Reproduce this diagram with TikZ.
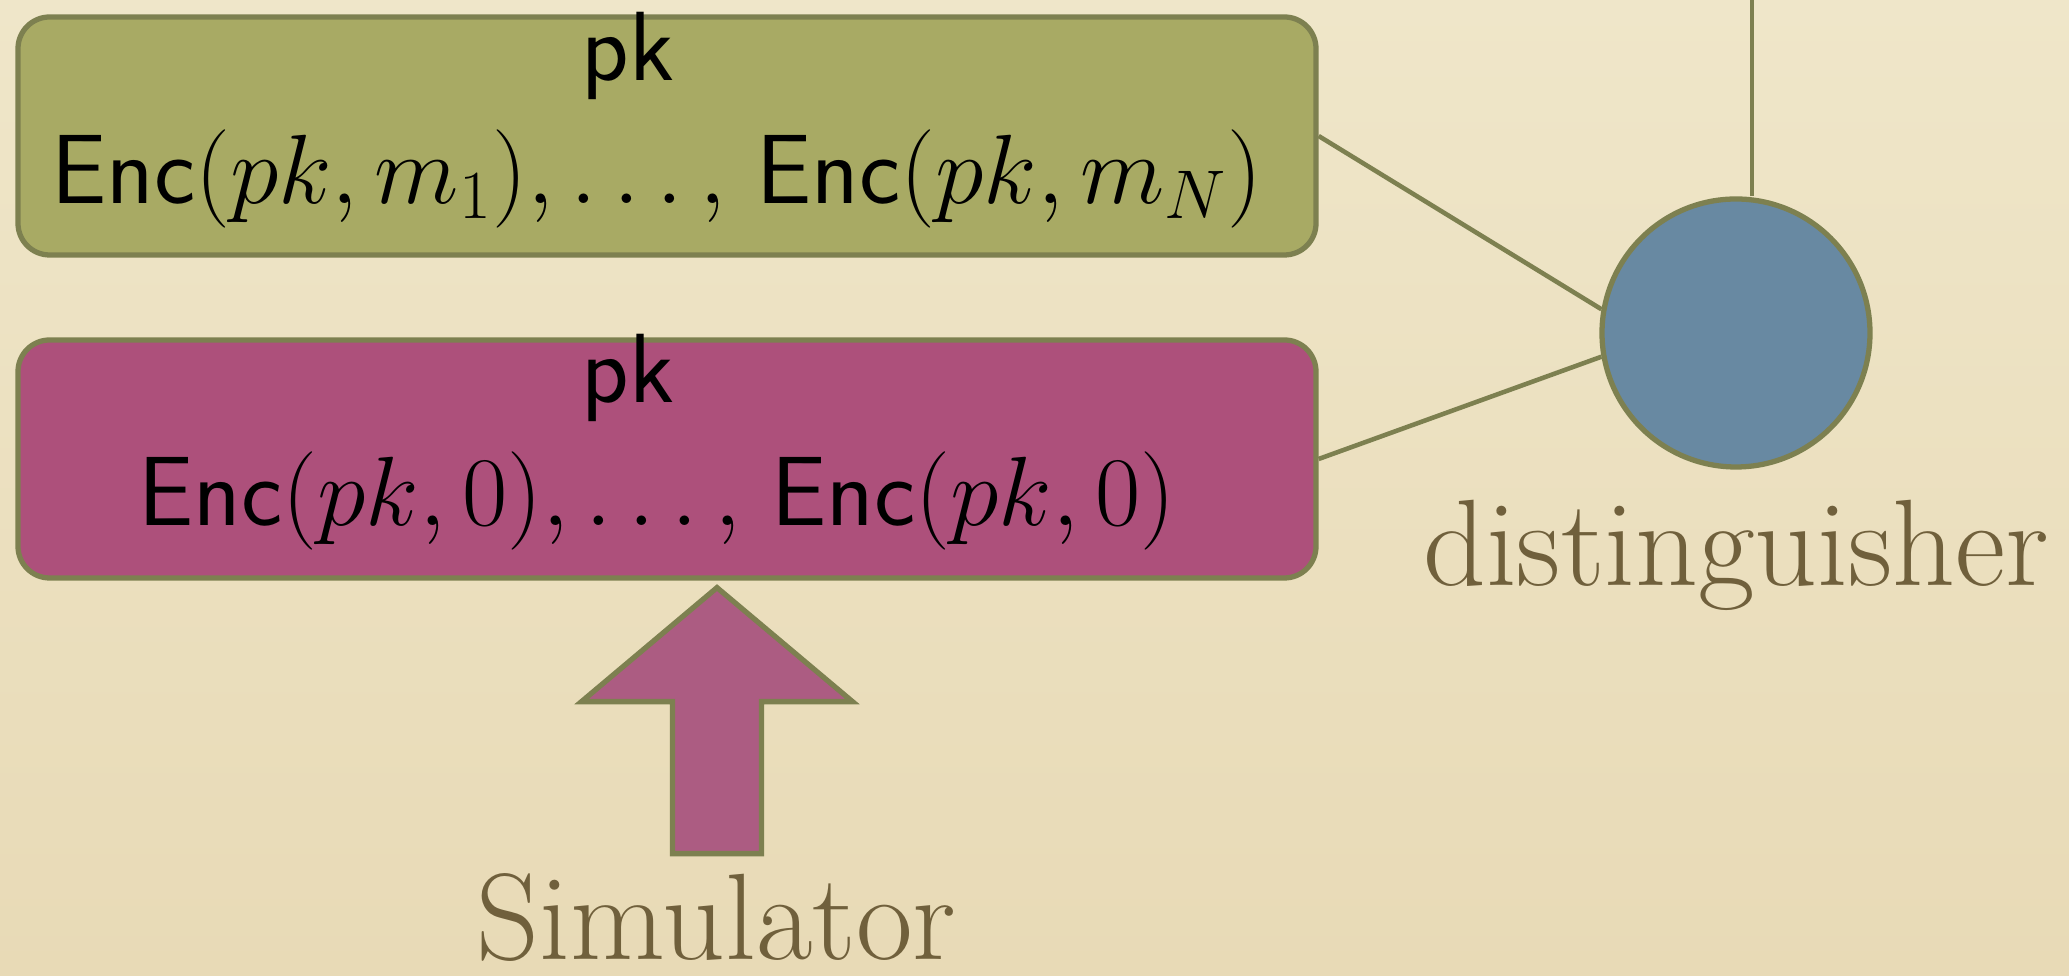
\RequirePackage{fix-cm}
\documentclass[tikz,border=0pt]{standalone}
\usepackage{xcolor}
\usepackage{tikz}
\usetikzlibrary{positioning, calc}
\definecolor{paper}{RGB}{239,230,201}
\definecolor{paperdk}{RGB}{232,218,182}
\definecolor{myolive}{RGB}{125,128,80}
\definecolor{hdrolive}{RGB}{168,170,100}
\definecolor{hdrplum}{RGB}{173,80,123}
\definecolor{arrplum}{RGB}{172,92,130}
\definecolor{hdrblue}{RGB}{104,137,162}
\definecolor{mybrown}{RGB}{112,96,60}
\tikzset{
  encbox/.style={rectangle, draw=myolive, line width=1.5pt,
    minimum width=12.98cm, minimum height=2.38cm, rounded corners=9pt},
  boxtext/.style={align=center, inner sep=0pt,
    font=\fontsize{28}{35}\selectfont},
  distnode/.style={circle, draw=myolive, fill=hdrblue,
    minimum size=2.68cm, line width=1.5pt},
  wire/.style={myolive, line width=1.3pt},
  bigarrow/.style={draw=myolive, fill=arrplum, line width=1.5pt, line join=miter},
  lbl/.style={text=mybrown, inner sep=0pt, anchor=base,
    font=\fontsize{35}{42}\selectfont}
}

\begin{document}
\begin{tikzpicture}
  % paper background
  \shade[top color=paper, bottom color=paperdk] (0,0) rectangle (20.69,9.76);
  \useasboundingbox (0,0) rectangle (20.69,9.76);

  % Real and simulated ciphertext boxes
  \node[encbox, fill=hdrolive] (realbox) at (6.67, 8.40) {};
  \node[boxtext] (realtxt) at ([xshift=-1mm, yshift=1.6mm]realbox.center)
    {\textsf{pk}\hspace*{5.8mm}\\
     \textsf{Enc}$(pk, m_1), \ldots,$\ \textsf{Enc}$(pk, m_N)$};
  \node[encbox, fill=hdrplum] (simbox) at (6.67, 5.17) {};
  \node[boxtext] (simtxt) at ([xshift=-1mm, yshift=1.7mm]simbox.center)
    {\textsf{pk}\hspace*{5.8mm}\\
     \textsf{Enc}$(pk, 0), \ldots,$\ \textsf{Enc}$(pk, 0)$};

  % Distinguisher
  \node[distnode] (dist) at (17.36, 6.43) {};
  \node[lbl] (distlbl) at ([yshift=-11.6mm]dist.south) {distinguisher};
  \coordinate (feed) at (17.52, 9.76);
  \draw[wire] (realbox.east) -- (dist.170);
  \draw[wire] (simbox.east) -- (dist.190);
  \draw[wire] (dist.north -| feed) -- (feed);

  % Simulator arrow
  \coordinate (tip) at ([xshift=5mm, yshift=-0.7mm]simbox.south);
  \draw[bigarrow] (tip) -- ++(1.355,-1.14) -- ++(-0.91,0) -- ++(0,-1.52)
    coordinate (foot) -- ++(-0.89,0) -- ++(0,1.52) -- ++(-0.91,0) -- cycle;
  \node[lbl] (simlbl) at ([xshift=-4.5mm, yshift=-10.6mm]foot) {Simulator};
\end{tikzpicture}
\end{document}
